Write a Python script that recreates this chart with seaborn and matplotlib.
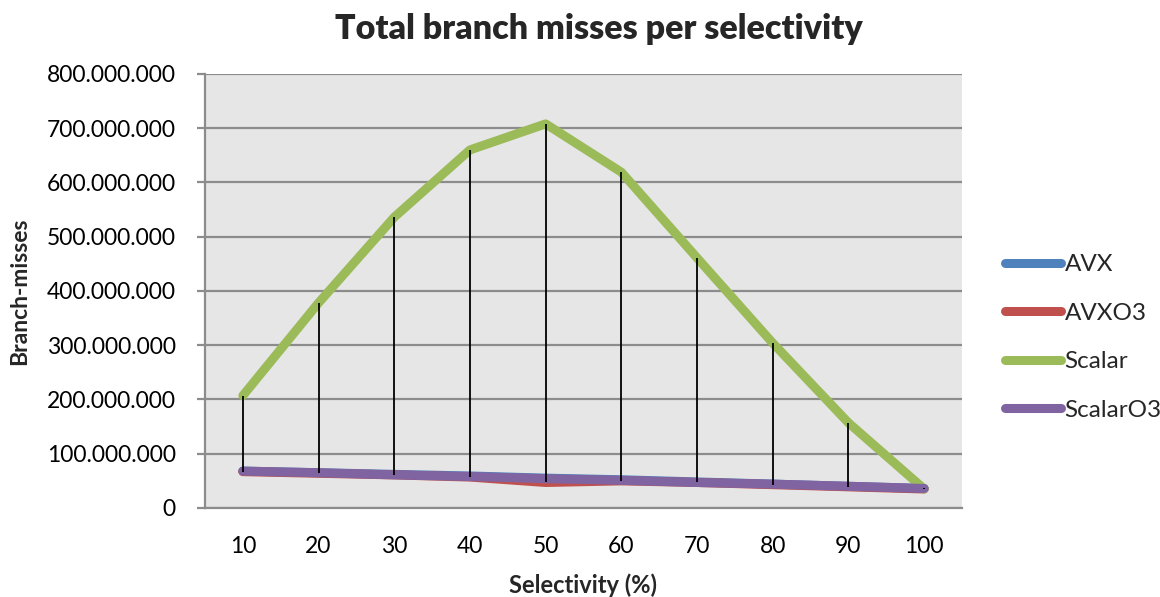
import numpy as np
import pandas as pd
import matplotlib
matplotlib.use("Agg")
import matplotlib.pyplot as plt
from matplotlib.ticker import FuncFormatter, MultipleLocator
from matplotlib.lines import Line2D
import seaborn as sns

selectivity = [10, 20, 30, 40, 50, 60, 70, 80, 90, 100]
avx = [68e6, 65e6, 62e6, 59e6, 55e6, 52e6, 48e6, 44e6, 40e6, 36e6]
avxo3 = [67e6, 64e6, 61e6, 57e6, 47e6, 50e6, 47e6, 43e6, 39e6, 35e6]
scalar = [207e6, 378e6, 536e6, 660e6, 708e6, 619e6, 461e6, 304e6, 157e6, 35e6]
scalaro3 = [68e6, 65e6, 61e6, 58e6, 54e6, 51e6, 47e6, 44e6, 40e6, 36e6]
series_names = ["AVX", "AVXO3", "Scalar", "ScalarO3"]
colors = ["#4F81BD", "#C0504D", "#9BBB59", "#8064A2"]

df = pd.DataFrame({
    "Selectivity": selectivity * 4,
    "Misses": avx + avxo3 + scalar + scalaro3,
    "Series": sum([[n] * len(selectivity) for n in series_names], []),
})

sns.set_theme(style="white")
plt.rcParams["font.family"] = ["Lato", "DejaVu Sans"]

fig = plt.figure(figsize=(11.6, 5.97), dpi=100)
ax = fig.add_axes([0.1767, 0.1491, 0.6526, 0.7270])
ax.set_facecolor("#E6E6E6")

sns.lineplot(data=df, x="Selectivity", y="Misses", hue="Series",
             palette=dict(zip(series_names, colors)), linewidth=6.5,
             ax=ax, legend=False, solid_capstyle="round", zorder=3)

# high-low lines
allv = np.array([avx, avxo3, scalar, scalaro3])
ax.vlines(selectivity, allv.min(axis=0), allv.max(axis=0), color="black",
          linewidth=1.3, zorder=4)

ax.set_xlim(5, 105)
ax.set_ylim(0, 800e6)
ax.set_xticks(selectivity)
ax.set_xticklabels([str(s) for s in selectivity])
ax.yaxis.set_major_locator(MultipleLocator(100e6))
ax.yaxis.set_major_formatter(FuncFormatter(lambda v, p: f"{v:,.0f}".replace(",", ".")))
ax.grid(axis="y", color="#8C8C8C", linewidth=1.6, zorder=0)
ax.set_axisbelow(True)
for s in ["top", "right"]:
    ax.spines[s].set_visible(False)
for s in ["left", "bottom"]:
    ax.spines[s].set_color("#8C8C8C")
    ax.spines[s].set_linewidth(1.6)

ax.tick_params(axis="y", which="major", left=True, length=6, width=1.6,
               color="#8C8C8C", pad=15, labelsize=16.5)
ax.tick_params(axis="x", which="major", bottom=False, length=0, pad=20,
               labelsize=16.5)
for lab in ax.get_xticklabels() + ax.get_yticklabels():
    lab.set_color("black")

ax.set_xlabel("Selectivity (%)", fontsize=17, fontweight="bold", labelpad=12)
ax.set_ylabel("Branch-misses", fontsize=16.5, fontweight="bold", labelpad=12)
fig.suptitle("Total branch misses per selectivity", fontsize=24.5, fontweight="heavy",
             x=0.516, y=0.978)

handles = [Line2D([0], [0], color=c, linewidth=6.5, solid_capstyle="round")
           for c in colors]
fig.legend(handles, series_names, loc="center left", bbox_to_anchor=(0.858, 0.435),
           frameon=False, fontsize=17.5, handlelength=2.3, handletextpad=0.15,
           labelspacing=1.13, borderaxespad=0)

fig.savefig("out.png", dpi=100)
